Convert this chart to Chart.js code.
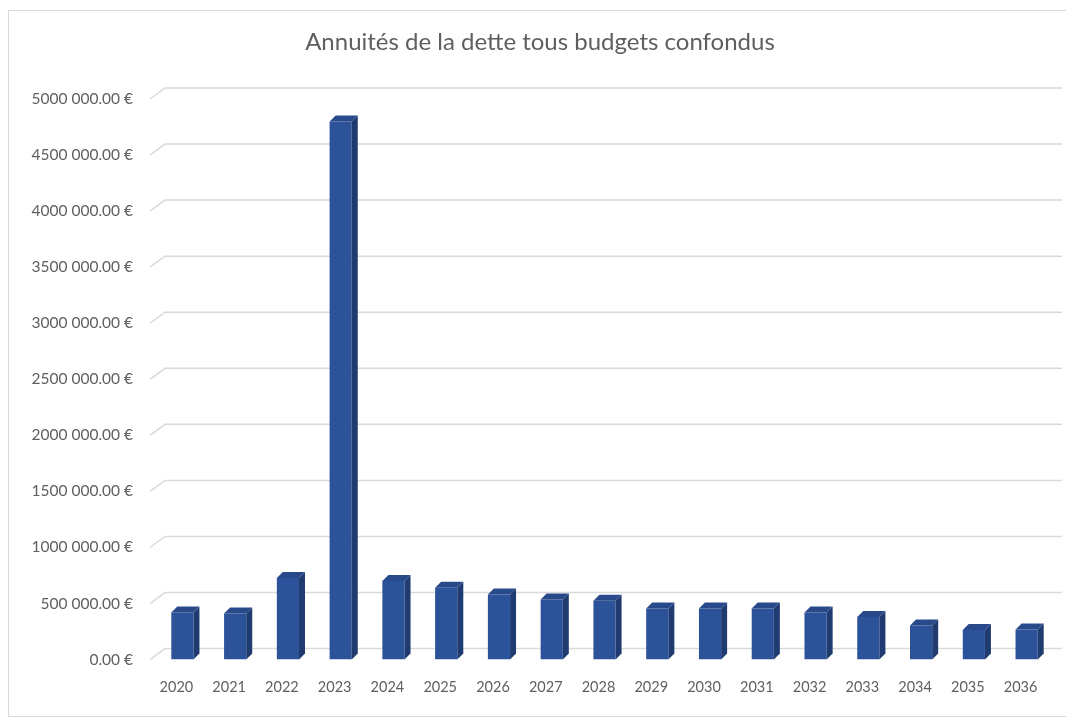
<!DOCTYPE html>
<html lang="fr">
<head>
<meta charset="utf-8">
<title>Annuités de la dette</title>
<script src="https://cdn.jsdelivr.net/npm/chart.js@4"></script>
<style>
  html, body { margin: 0; padding: 0; background: #fff; overflow: hidden; }
  #frame {
    position: absolute; left: 8px; top: 10px; width: 1300px; height: 707px;
    border: 1px solid #d9d9d9; box-sizing: border-box;
  }
  #wrap { position: absolute; left: 0; top: 0; width: 1066px; height: 719px; }
</style>
</head>
<body>
<div id="frame"></div>
<div id="wrap"><canvas id="debtChart"></canvas></div>
<script>
// Annuités par année (en euros)
const years = ['2020', '2021', '2022', '2023', '2024', '2025', '2026', '2027', '2028',
  '2029', '2030', '2031', '2032', '2033', '2034', '2035', '2036'];
const annuities = [420000, 412000, 728000, 4800000, 700000, 640000, 580000, 535000, 525000,
  455000, 455000, 455000, 420000, 380000, 305000, 265000, 268000];
const yTicks = [0, 500000, 1000000, 1500000, 2000000, 2500000, 3000000, 3500000, 4000000, 4500000, 5000000];

const textColor = '#5f5f5f';
const fontFamily = 'Lato, "Open Sans", sans-serif';

// "5000 000.00 €" style: only the last thousands group is separated
function euro(v) {
  if (v < 1000) return v.toFixed(2) + ' €';
  const head = Math.floor(v / 1000);
  const tail = String(v % 1000).padStart(3, '0');
  return head + ' ' + tail + '.00 €';
}

// back wall grid + side/top faces to give the columns some depth
const depthPlugin = {
  id: 'depth',
  beforeDatasetsDraw(chart) {
    const { ctx, chartArea, scales } = chart;
    const y = scales.y;
    const dx = 15, dy = 11;
    const x0 = chartArea.left - 6;
    ctx.save();
    ctx.strokeStyle = '#d9d9d9';
    ctx.lineWidth = 1.5;
    yTicks.forEach(v => {
      const py = y.getPixelForValue(v);
      ctx.beginPath();
      ctx.moveTo(x0, py);
      ctx.lineTo(x0 + dx, py - dy);
      ctx.lineTo(chartArea.right + 9, py - dy);
      ctx.stroke();
    });
    ctx.restore();
  },
  afterDatasetsDraw(chart) {
    const { ctx } = chart;
    const d = 6;
    ctx.save();
    chart.getDatasetMeta(0).data.forEach(bar => {
      const { x, y, base, width } = bar.getProps(['x', 'y', 'base', 'width'], true);
      const l = x - width / 2, r = x + width / 2;
      // right side
      ctx.fillStyle = '#1f3b70';
      ctx.beginPath();
      ctx.moveTo(r, y);
      ctx.lineTo(r + d, y - d);
      ctx.lineTo(r + d, base - d);
      ctx.lineTo(r, base);
      ctx.closePath();
      ctx.fill();
      // top
      ctx.fillStyle = '#284a8a';
      ctx.beginPath();
      ctx.moveTo(l, y);
      ctx.lineTo(l + d, y - d);
      ctx.lineTo(r + d, y - d);
      ctx.lineTo(r, y);
      ctx.closePath();
      ctx.fill();
    });
    ctx.restore();
  }
};

const ctx = document.getElementById('debtChart').getContext('2d');
new Chart(ctx, {
  type: 'bar',
  data: {
    labels: years,
    datasets: [{
      label: 'Annuités',
      data: annuities,
      backgroundColor: '#2c5299',
      barPercentage: 1,
      categoryPercentage: 0.42
    }]
  },
  options: {
    responsive: true,
    maintainAspectRatio: false,
    animation: false,
    layout: { padding: { left: 14, right: 0, top: 0, bottom: 4 } },
    plugins: {
      legend: { display: false },
      tooltip: { enabled: false },
      title: {
        display: true,
        text: 'Annuités de la dette tous budgets confondus',
        color: textColor,
        font: { family: fontFamily, size: 24, weight: 'normal' },
        padding: { top: 27.6, bottom: 42.6 }
      }
    },
    scales: {
      x: {
        grid: { display: false, drawTicks: false },
        border: { display: false },
        ticks: {
          color: textColor,
          font: { family: fontFamily, size: 14.5 },
          padding: 19,
          labelOffset: -6,
          maxRotation: 0,
          autoSkip: false
        }
      },
      y: {
        min: 0,
        max: 5000000,
        grid: { display: false, drawTicks: false },
        border: { display: false },
        afterBuildTicks(scale) {
          scale.ticks = yTicks.map(v => ({ value: v }));
        },
        afterFit(scale) { scale.width = 142; },
        ticks: {
          color: textColor,
          font: { family: fontFamily, size: 15.5 },
          padding: 23,
          callback: v => euro(v)
        }
      },
      // empty right axis, only reserves room on the right side
      spacer: {
        position: 'right',
        display: true,
        grid: { display: false },
        border: { display: false },
        ticks: { display: false },
        afterFit(scale) { scale.width = 13; }
      }
    }
  },
  plugins: [depthPlugin]
});
</script>
</body>
</html>
